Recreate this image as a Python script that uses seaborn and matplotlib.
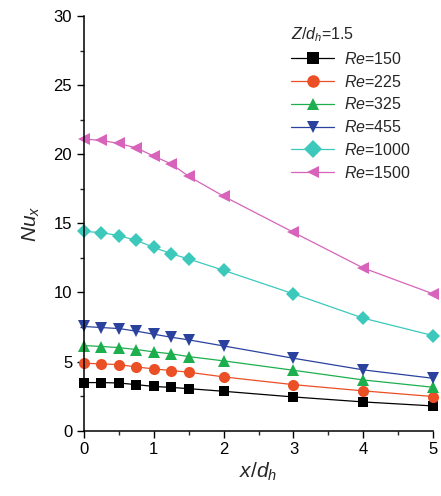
import numpy as np
import pandas as pd
import matplotlib
matplotlib.use("Agg")
import matplotlib.pyplot as plt
import seaborn as sns
from matplotlib.ticker import MultipleLocator

x_vals = [0, 0.25, 0.5, 0.75, 1, 1.25, 1.5, 2, 3, 4, 5]
re_150 = [3.48, 3.48, 3.45, 3.33, 3.20, 3.13, 3.04, 2.85, 2.44, 2.08, 1.79]
re_225 = [4.88, 4.83, 4.78, 4.61, 4.47, 4.35, 4.23, 3.89, 3.33, 2.88, 2.47]
re_325 = [6.16, 6.09, 6.01, 5.87, 5.70, 5.56, 5.36, 5.05, 4.37, 3.67, 3.14]
re_455 = [7.54, 7.46, 7.39, 7.20, 6.98, 6.76, 6.57, 6.13, 5.24, 4.40, 3.79]
re_1000 = [14.42, 14.33, 14.11, 13.77, 13.26, 12.80, 12.42, 11.60, 9.90, 8.14, 6.88]
re_1500 = [21.10, 21.00, 20.78, 20.46, 19.86, 19.30, 18.40, 16.96, 14.35, 11.77, 9.90]
re_labels = ["150", "225", "325", "455", "1000", "1500"]

sns.set_theme(style="ticks")
plt.rcParams["font.family"] = ["Liberation Sans", "DejaVu Sans"]
plt.rcParams["mathtext.fontset"] = "custom"
plt.rcParams["mathtext.rm"] = "Liberation Sans"
plt.rcParams["mathtext.it"] = "Liberation Sans:italic"
plt.rcParams["mathtext.bf"] = "Liberation Sans:bold"

series = [re_150, re_225, re_325, re_455, re_1000, re_1500]
rows = []
for lab, vals in zip(re_labels, series):
    name = r"$Re$=" + lab
    for xv, yv in zip(x_vals, vals):
        rows.append({"x": xv, "Nu": yv, "Re": name})
df = pd.DataFrame(rows)
names = [r"$Re$=" + l for l in re_labels]

colors = ["#000000", "#EA4F26", "#1DAE4E", "#2A429E", "#3CC9BC", "#D763BB"]
markers = ["s", "o", "^", "v", "D", "<"]

fig = plt.figure(figsize=(4.41, 4.96), dpi=100)
ax = fig.add_axes([0.1905, 0.1317, 0.7915, 0.836])

sns.lineplot(data=df, x="x", y="Nu", hue="Re", style="Re", hue_order=names,
             style_order=names, palette=dict(zip(names, colors)),
             markers=dict(zip(names, markers)), dashes=False, markersize=8,
             markeredgewidth=0, linewidth=0.9, ax=ax, clip_on=False, legend="full")

for line, m in zip(ax.lines, markers):
    if m == "s":
        line.set_markersize(7)
    elif m == "o":
        line.set_markersize(8)
    elif m == "D":
        line.set_markersize(7.5)
    else:
        line.set_markersize(8.5)

ax.set_xlim(0, 5)
ax.set_ylim(0, 30)
ax.xaxis.set_major_locator(MultipleLocator(1))
ax.xaxis.set_minor_locator(MultipleLocator(0.5))
ax.yaxis.set_major_locator(MultipleLocator(5))
ax.yaxis.set_minor_locator(MultipleLocator(2.5))
ax.tick_params(which="major", direction="out", length=5, width=1, labelsize=12, colors="black")
ax.tick_params(which="minor", direction="out", length=3, width=1)
for s in ["top", "right"]:
    ax.spines[s].set_visible(False)
for s in ["left", "bottom"]:
    ax.spines[s].set_linewidth(1.1)
    ax.spines[s].set_color("black")

ax.set_xlabel(r"$x/d_h$", fontsize=15, labelpad=2)
ax.set_ylabel(r"$Nu_x$", fontsize=15, labelpad=8)

handles, labels = ax.get_legend_handles_labels()
for h in handles:
    h.set_linewidth(0.9)
    h.set_markersize(9)
leg = ax.legend(handles, labels, title=r"$Z/d_h$=1.5", loc="upper right",
                bbox_to_anchor=(0.963, 1.0), frameon=False, fontsize=11.5,
                title_fontsize=11.5, handlelength=2.7, handletextpad=0.6,
                labelspacing=0.42, borderaxespad=0.2)
leg._legend_box.align = "left"

fig.savefig("out.png", dpi=100)
